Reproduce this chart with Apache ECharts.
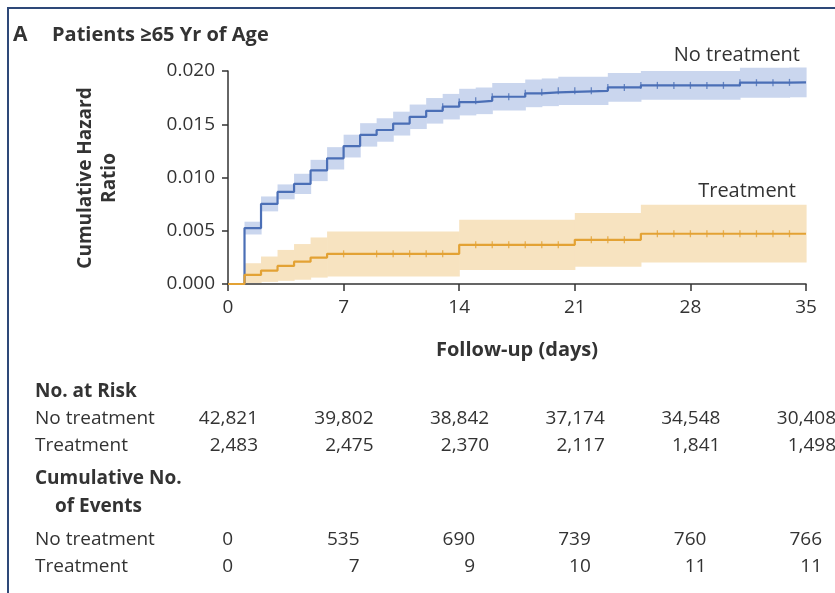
<!DOCTYPE html>
<html><head><meta charset="utf-8">
<script src="https://cdn.jsdelivr.net/npm/echarts@6/dist/echarts.min.js"></script>
<style>html,body{margin:0;padding:0;background:#fff}#c{width:835px;height:593px}</style>
</head><body><div id="c"></div>
<script>
// ---- Data ----
const xTicks = [0, 7, 14, 21, 28, 35];
const noTxDays = [0,1,2,3,4,5,6,7,8,9,10,11,12,13,14,15,16,18,19,20,23,25,31,34,35];
const noTxHaz  = [0,0.00525,0.00752,0.00865,0.0094,0.01066,0.0118,0.01295,0.0140,0.01446,0.01506,0.0157,0.01626,0.01665,0.01708,0.0172,0.01758,0.0179,0.0180,0.01814,0.01846,0.01865,0.0189,0.01893,0.01893];
const noTxLow  = [0,0.00465,0.00682,0.00795,0.00845,0.00966,0.01075,0.01188,0.0129,0.01336,0.01394,0.01455,0.01506,0.01545,0.01583,0.01595,0.01628,0.0166,0.0167,0.01681,0.01711,0.0173,0.0175,0.01753,0.01753];
const noTxHigh = [0,0.00585,0.00822,0.00935,0.01035,0.01166,0.01285,0.01402,0.0151,0.01556,0.01618,0.01685,0.01746,0.01785,0.01833,0.01845,0.01888,0.0192,0.0193,0.01947,0.01981,0.0200,0.0203,0.02033,0.02033];
const noTxCensor = [13,14,15,16,17,18,19,20,21,22,23,24,25,26,27,28,29,30,31,32,33,34];

const txDays = [0,1,2,3,4,5,6,14,21,25,35];
const txHaz  = [0,0.00085,0.00126,0.0017,0.0021,0.00248,0.00283,0.00368,0.00415,0.00472,0.00472];
const txLow  = [0,0.0001,0.0002,0.0003,0.0004,0.0006,0.0007,0.00132,0.00163,0.00201,0.00201];
const txHigh = [0,0.00195,0.00258,0.0032,0.00375,0.00437,0.00494,0.00604,0.00667,0.00745,0.00745];
const txCensor = [7,9,10,11,12,13,15,16,17,18,19,20,22,23,24,26,27,28,29,30,31,32,33,34];

const groupNames = ['No treatment', 'Treatment'];
const atRiskNoTx = ['42,821','39,802','38,842','37,174','34,548','30,408'];
const atRiskTx   = ['2,483','2,475','2,370','2,117','1,841','1,498'];
const eventsNoTx = ['0','535','690','739','760','766'];
const eventsTx   = ['0','7','9','10','11','11'];

// ---- Helpers ----
const BLUE = '#4b6fb6', BLUE_BAND = '#cad6ee';
const ORANGE = '#e3a234', ORANGE_BAND = '#f7e3c0';
const TXT = '#333333';
const FONT = '"Open Sans", "Noto Sans", sans-serif';
const pairs = (xs, ys) => xs.map((x, i) => [x, ys[i]]);
const bandRects = (xs, lo, hi) => xs.slice(0, -1).map((x, i) => [x, xs[i + 1], lo[i], hi[i]]);
function valueAt(xs, ys, d) { let v = ys[0]; for (let i = 0; i < xs.length; i++) if (xs[i] <= d) v = ys[i]; return v; }
const censorPts = (cd, xs, ys) => cd.map(d => [d, valueAt(xs, ys, d)]);
const bandRender = color => (params, api) => {
  const a = api.coord([api.value(0), api.value(3)]);
  const b = api.coord([api.value(1), api.value(2)]);
  return { type: 'rect', shape: { x: a[0], y: a[1], width: b[0] - a[0] + 0.6, height: b[1] - a[1] }, style: { fill: color } };
};

const chart = echarts.init(document.getElementById('c'), null, { renderer: 'canvas' });
const option = {
  animation: false,
  backgroundColor: '#fff',
  grid: { left: 228, right: 29, top: 71, bottom: 309, outerBoundsMode: 'none' },
  xAxis: {
    type: 'value', min: 0, max: 35, interval: 7,
    axisLine: { lineStyle: { color: '#333', width: 1.5 } },
    axisTick: { length: 7, lineStyle: { color: '#333', width: 1.5 } },
    axisLabel: { color: TXT, fontSize: 19, fontFamily: FONT, margin: 14 },
    splitLine: { show: false }
  },
  yAxis: {
    type: 'value', min: 0, max: 0.02, interval: 0.005,
    axisLine: { show: true, lineStyle: { color: '#333', width: 1.5 } },
    axisTick: { show: true, length: 6, lineStyle: { color: '#333', width: 1.5 } },
    axisLabel: { color: TXT, fontSize: 19, fontFamily: FONT, margin: 13, formatter: v => v.toFixed(3) },
    splitLine: { show: false }
  },
  series: [
    { type: 'custom', data: bandRects(noTxDays, noTxLow, noTxHigh), encode: { x: [0, 1], y: [2, 3] }, renderItem: bandRender(BLUE_BAND), z: 1, silent: true },
    { type: 'custom', data: bandRects(txDays, txLow, txHigh), encode: { x: [0, 1], y: [2, 3] }, renderItem: bandRender(ORANGE_BAND), z: 1, silent: true },
    { name: 'No treatment', type: 'line', step: 'end', data: pairs(noTxDays, noTxHaz), symbol: 'none', lineStyle: { color: BLUE, width: 2.2 }, z: 3 },
    { name: 'Treatment', type: 'line', step: 'end', data: pairs(txDays, txHaz), symbol: 'none', lineStyle: { color: ORANGE, width: 2.2 }, z: 3 },
    { type: 'scatter', data: censorPts(noTxCensor, noTxDays, noTxHaz), symbol: 'rect', symbolSize: [1.3, 7], itemStyle: { color: BLUE }, z: 4 },
    { type: 'scatter', data: censorPts(txCensor, txDays, txHaz), symbol: 'rect', symbolSize: [1.3, 7], itemStyle: { color: ORANGE }, z: 4 }
  ]
};
chart.setOption(option);

// ---- Text / annotation layer ----
const g = [];
const txt = (x, y, s, o = {}) => g.push({ type: 'text', x, y, z: 10, silent: true,
  style: Object.assign({ text: s, fill: TXT, font: `${o.bold ? 'bold ' : ''}${o.size || 19}px ${FONT}`, textAlign: o.align || 'left', textVerticalAlign: 'middle' }, o.style || {}) });

g.push({ type: 'polyline', z: 10, silent: true, shape: { points: [[8, 593], [8, 8], [835, 8]] }, style: { stroke: '#2e4878', lineWidth: 2, fill: null } });
txt(13, 35, 'A', { bold: true, size: 21 });
txt(52, 35, 'Patients \u226565 Yr of Age', { bold: true, size: 20 });
g.push({ type: 'text', x: 98, y: 178, z: 10, silent: true, rotation: Math.PI / 2,
  style: { text: 'Cumulative Hazard\nRatio', fill: TXT, font: `bold 19px ${FONT}`, textAlign: 'center', textVerticalAlign: 'middle', lineHeight: 24 } });
txt(517, 350, 'Follow-up (days)', { bold: true, size: 20, align: 'center' });
txt(800, 55, groupNames[0], { align: 'right', size: 20 });
txt(796, 191, groupNames[1], { align: 'right', size: 20 });

// table
txt(35, 392, 'No. at Risk', { bold: true, size: 19 });
txt(35, 419, groupNames[0]);
txt(35, 446, groupNames[1]);
txt(35, 479, 'Cumulative No.', { bold: true, size: 19 });
txt(55, 507, 'of Events', { bold: true, size: 19 });
txt(35, 540, groupNames[0]);
txt(35, 567, groupNames[1]);
xTicks.forEach((d, i) => {
  const px = chart.convertToPixel({ xAxisIndex: 0 }, d);
  txt(px + 30, 419, atRiskNoTx[i], { align: 'right' });
  txt(px + 30, 446, atRiskTx[i], { align: 'right' });
  const eo = i === 0 ? 5 : 16;
  txt(px + eo, 540, eventsNoTx[i], { align: 'right' });
  txt(px + eo, 567, eventsTx[i], { align: 'right' });
});
chart.setOption({ graphic: { elements: g } });
</script></body></html>
